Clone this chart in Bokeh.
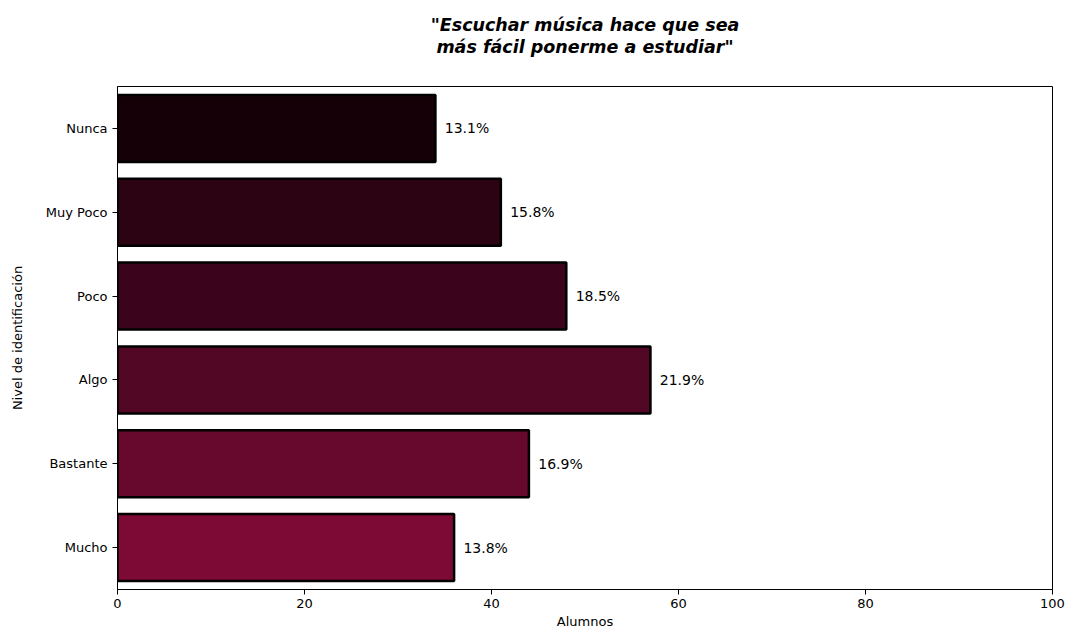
from bokeh.plotting import figure
from bokeh.models import ColumnDataSource, Range1d, FactorRange, LabelSet
from bokeh.layouts import column
from bokeh.core.properties import value
from bokeh.embed import file_html
from bokeh.resources import INLINE

categories = ["Nunca", "Muy Poco", "Poco", "Algo", "Bastante", "Mucho"]
alumnos = [34, 41, 48, 57, 44, 36]
colors = ["#140006", "#2b0312", "#3c041c", "#520725", "#66092d", "#7c0a35"]
title_lines = ['"Escuchar música hace que sea', 'más fácil ponerme a estudiar"']
total = sum(alumnos)
labels = [f"{v / total * 100:.1f}%" for v in alumnos]
label_x = [v + 1 for v in alumnos]

FONT = "DejaVu Sans"
W = 1069
LEFT, RIGHT = 117, 17
FRAME_W = W - LEFT - RIGHT
TITLE_H = 80

# --- title strip (two centred lines above the plot frame) ---
tfig = figure(width=W, height=TITLE_H, output_backend="svg", toolbar_location=None,
              x_range=Range1d(0, 100), y_range=Range1d(TITLE_H, 0),
              min_border_left=LEFT, min_border_right=RIGHT, min_border_top=0,
              min_border_bottom=0, frame_width=FRAME_W, frame_height=TITLE_H)
tfig.axis.visible = False
tfig.grid.visible = False
tfig.outline_line_color = None
tsrc = ColumnDataSource(dict(x=[50] * len(title_lines),
                             y=[24 + 22 * i for i in range(len(title_lines))],
                             t=title_lines))
tfig.text(x="x", y="y", text="t", source=tsrc, text_align="center", text_baseline="middle",
          text_font=value(FONT), text_font_size="17.5px", text_font_style="bold italic",
          text_color="black")

# --- main bar chart ---
src = ColumnDataSource(dict(cat=categories, val=alumnos, color=colors, lab=labels, lx=label_x))
p = figure(output_backend="svg", toolbar_location=None,
           y_range=FactorRange(*reversed(categories)), x_range=Range1d(0, 100),
           frame_width=FRAME_W, frame_height=503,
           min_border_left=LEFT, min_border_right=RIGHT, min_border_top=86 - TITLE_H,
           min_border_bottom=40)
p.hbar(y="cat", right="val", left=0, height=0.8, fill_color="color",
       line_color="black", line_width=2.5, source=src)
p.add_layout(LabelSet(x="lx", y="cat", text="lab", source=src, text_baseline="middle",
                      text_align="left", text_font=value(FONT), text_font_size="14px",
                      text_color="black"))

p.xgrid.visible = False
p.ygrid.visible = False
p.outline_line_color = "black"
p.outline_line_width = 1
for ax in (p.xaxis[0], p.yaxis[0]):
    ax.axis_line_color = "black"
    ax.major_tick_line_color = "black"
    ax.minor_tick_line_color = None
    ax.major_tick_out = 5
    ax.major_tick_in = 0
    ax.major_label_text_font = FONT
    ax.major_label_text_font_size = "13px"
    ax.major_label_text_color = "black"
    ax.axis_label_text_font = FONT
    ax.axis_label_text_font_size = "13px"
    ax.axis_label_text_font_style = "normal"
    ax.axis_label_text_color = "black"
p.xaxis.ticker = [0, 20, 40, 60, 80, 100]
p.xaxis.axis_label = "Alumnos"
p.xaxis.axis_label_standoff = 3
p.xaxis.major_label_standoff = 4
p.yaxis.axis_label = "Nivel de identificación"
p.yaxis.axis_label_standoff = 18
p.yaxis.major_label_standoff = 5

layout = column(tfig, p, spacing=0)
open("out.html", "w").write(file_html(layout, INLINE))
